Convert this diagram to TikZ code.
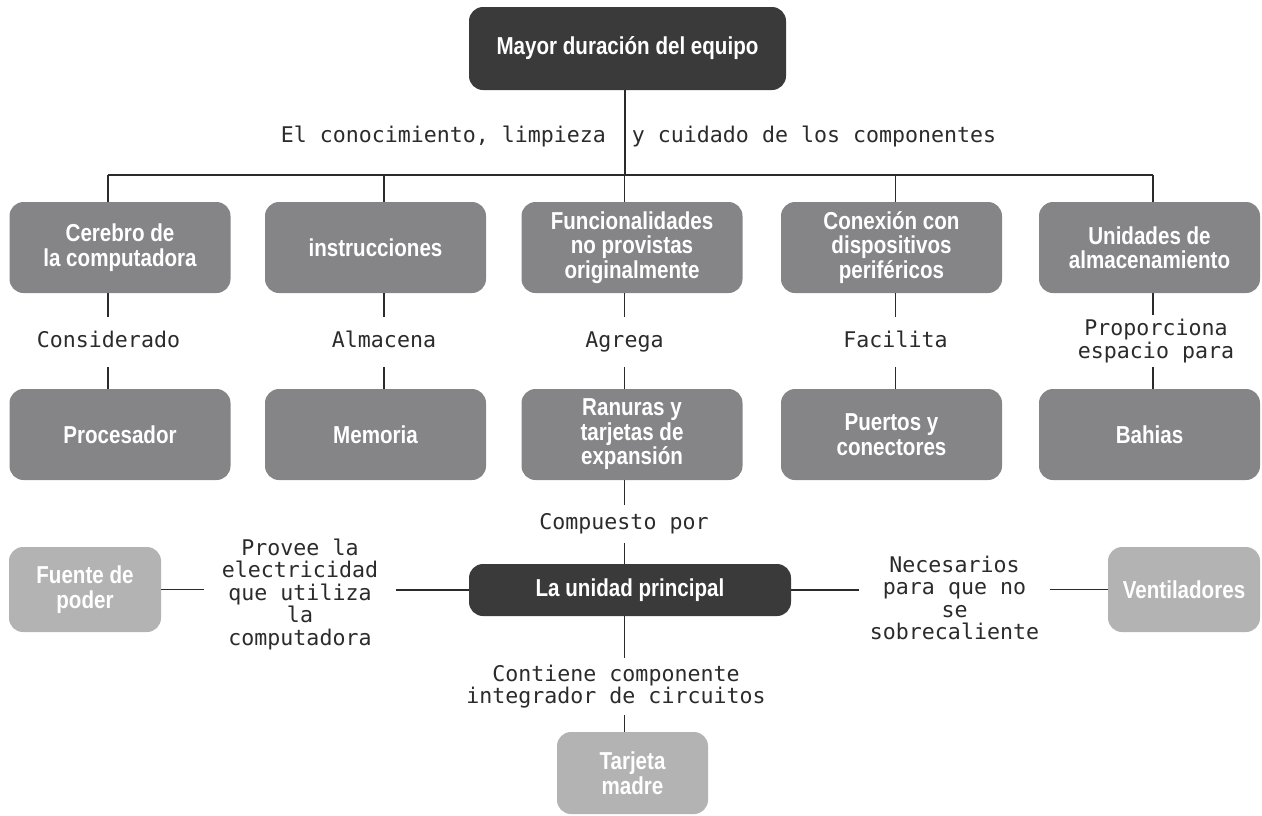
\documentclass[tikz,border=0pt]{standalone}
\usepackage{fontspec}
\newfontfamily\boxfont[FakeStretch=0.84]{Liberation Sans}
\newfontfamily\labfont{DejaVu Sans Mono}
\definecolor{darkbox}{HTML}{3A3A3A}
\definecolor{midbox}{HTML}{858587}
\definecolor{lightbox}{HTML}{B3B3B3}
\definecolor{ink}{HTML}{2B2B2B}
\begin{document}
\begin{tikzpicture}[x=1pt,y=-1pt,
  box/.style={rounded corners=14pt, inner sep=0pt, align=center, text=white,
    font=\boxfont\bfseries\fontsize{24.5}{24.5}\selectfont},
  darkb/.style={box, fill=darkbox},
  midb/.style={box, fill=midbox, minimum width=221pt, minimum height=91pt},
  lightb/.style={box, fill=lightbox},
  lab/.style={inner sep=0pt, align=center, text=ink,
    font=\labfont\fontsize{21.6}{22.5}\selectfont},
  rowlab/.style={lab, minimum height=50pt, text height=15.5pt, text depth=5pt},
  conn/.style={draw=ink, line width=1.4pt}
]
\useasboundingbox (0,0) rectangle (1262,815);

% column positions
\coordinate (x0) at (625,0);
\coordinate (x1) at (108,0);
\coordinate (x2) at (384,0);
\coordinate (x3) at (624.5,0);
\coordinate (x4) at (895.5,0);
\coordinate (x5) at (1153,0);
\coordinate (xc) at (624.5,0);
\coordinate (bar) at (0,175);

% top
\node[darkb, minimum width=317pt, minimum height=83pt] (title) at (627.5,48.5) {Mayor duración del equipo};
\draw[conn] (title.south -| x0) -- (x0 |- bar);
\node[lab] (toplab) at (638.5,136) {El conocimiento, limpieza\ \ y cuidado de los componentes};
\draw[conn] (x1 |- bar) -- (x5 |- bar);

% row 1
\node[midb] (b1) at (120,247.5) {Cerebro de\\la computadora};
\node[midb] (b2) at (375.5,247.5) {instrucciones};
\node[midb] (b3) at (632,247.5) {Funcionalidades\\no provistas\\originalmente};
\node[midb] (b4) at (891.5,247.5) {Conexión con\\dispositivos\\periféricos};
\node[midb] (b5) at (1149.5,247.5) {Unidades de\\almacenamiento};

% row 2
\node[midb] (c1) at (120,434.5) {Procesador};
\node[midb] (c2) at (375.5,434.5) {Memoria};
\node[midb] (c3) at (632,434.5) {Ranuras y\\tarjetas de\\expansión};
\node[midb] (c4) at (891.5,434.5) {Puertos y\\conectores};
\node[midb] (c5) at (1149.5,434.5) {Bahias};

% row labels
\node[rowlab] (l1) at (108.5,342) {Considerado};
\node[rowlab] (l2) at (384,342) {Almacena};
\node[rowlab] (l3) at (624.5,342) {Agrega};
\node[rowlab] (l4) at (895.5,342) {Facilita};
\node[lab, minimum height=52pt] (l5) at (1156,341) {Proporciona\\espacio para};

\foreach \i in {1,...,5}{
  \draw[conn] (x\i |- bar) -- (x\i |- b\i.north);
  \draw[conn] (x\i |- b\i.south) -- (x\i |- l\i.north);
  \draw[conn] (x\i |- l\i.south) -- (x\i |- c\i.north);
}

% main unit
\node[darkb, minimum width=322pt, minimum height=52pt] (unidad) at (630,590) {La unidad principal};
\node[lab, minimum height=38pt] (comp) at (624,524) {Compuesto por};
\draw[conn] (xc |- c3.south) -- (xc |- comp.north);
\draw[conn] (xc |- comp.south) -- (xc |- unidad.north);

% left
\node[lightb, minimum width=152pt, minimum height=85pt] (fuente) at (85,589.5) {Fuente de\\poder};
\node[lab, minimum width=192pt] (provee) at (300,594) {Provee la\\electricidad\\que utiliza\\la\\computadora};
\draw[conn] (fuente.east) -- (fuente.east -| provee.west);
\draw[conn] (provee.east |- unidad.west) -- (unidad.west);

% right
\node[lightb, minimum width=152pt, minimum height=85pt] (vent) at (1184,589.5) {Ventiladores};
\node[lab, minimum width=191pt] (nec) at (954.5,598) {Necesarios\\para que no\\se\\sobrecaliente};
\draw[conn] (unidad.east) -- (unidad.east -| nec.west);
\draw[conn] (nec.east |- vent.west) -- (vent.west);

% bottom
\node[lightb, minimum width=151pt, minimum height=82pt] (tarjeta) at (632.5,773) {Tarjeta\\madre};
\node[lab, minimum height=57pt] (cont) at (616,686.5) {Contiene componente\\integrador de circuitos};
\draw[conn] (xc |- unidad.south) -- (xc |- cont.north);
\draw[conn] (xc |- cont.south) -- (xc |- tarjeta.north);
\end{tikzpicture}
\end{document}
